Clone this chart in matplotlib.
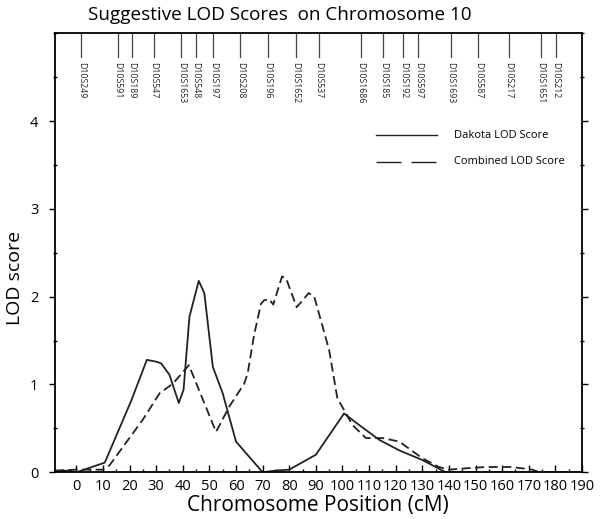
import matplotlib
matplotlib.use("Agg")
import matplotlib.pyplot as plt
from matplotlib.ticker import MultipleLocator

plt.rcParams['font.family'] = ['Open Sans', 'DejaVu Sans']

# Dakota LOD score (solid)
dakota_cm = [-8, -3, 0, 10.7, 20.7, 26.5, 30.0, 31.9, 35.0, 38.5, 40.3, 42.5, 46.0,
             48.1, 51.3, 55.0, 60.0, 70.0, 75, 80, 90.0, 100.6, 106.2, 113.8, 121.3,
             130.0, 138.8, 190]
dakota_lod = [0.01, 0.02, 0.0, 0.11, 0.82, 1.28, 1.26, 1.24, 1.11, 0.79, 0.94, 1.77, 2.18,
              2.04, 1.20, 0.90, 0.35, 0.0, 0.02, 0.03, 0.20, 0.67, 0.54, 0.37, 0.25,
              0.14, 0.0, 0.0]

# Combined LOD score (dashed)
combined_cm = [-8, 0, 10, 12.5, 25.0, 31.3, 36.3, 42.3, 52.5, 57.5, 63.1, 64.4, 66.9,
               69.4, 70.6, 72.5, 74.0, 77.3, 78.8, 82.8, 87.3, 89.4, 90.6, 95.0, 98.1,
               100.6, 103.7, 108.8, 115.0, 121.3, 125.0, 130.0, 136.3, 140.0, 146.3,
               153.8, 163.7, 171.3, 174]
combined_lod = [0.02, 0.03, 0.03, 0.08, 0.60, 0.90, 1.01, 1.22, 0.46, 0.75, 1.01, 1.13, 1.58,
                1.92, 1.96, 1.97, 1.91, 2.23, 2.21, 1.88, 2.04, 2.00, 1.87, 1.39, 0.84,
                0.71, 0.54, 0.39, 0.39, 0.35, 0.27, 0.16, 0.06, 0.03, 0.045,
                0.06, 0.06, 0.03, 0.0]

# marker positions (cM)
marker_names = ['D10S249', 'D10S591', 'D10S189', 'D10S547', 'D10S1653', 'D10S548',
                'D10S197', 'D10S208', 'D10S196', 'D10S1652', 'D10S537', 'D10S1686',
                'D10S185', 'D10S192', 'D10S597', 'D10S1693', 'D10S587', 'D10S217',
                'D10S1651', 'D10S212']
marker_cm = [1.9, 15.6, 20.9, 29.1, 39.4, 44.8, 51.5, 61.6, 71.9, 82.5, 91.0, 106.9,
             115.3, 122.8, 128.5, 140.6, 151.0, 162.5, 174.6, 180.2]

col = '#222222'

fig = plt.figure(figsize=(6.0, 5.19), dpi=100)
ax = fig.add_axes([0.0917, 0.090, 0.8783, 0.846])

ax.plot(dakota_cm, dakota_lod, color=col, lw=1.3, solid_joinstyle='round')
ax.plot(combined_cm, combined_lod, color=col, lw=1.3, linestyle=(0, (5, 2.5)))

ax.set_xlim(-8, 190)
ax.set_ylim(0, 5)

# markers hanging from the top
trans = ax.get_xaxis_transform()
for name, pos in zip(marker_names, marker_cm):
    ax.plot([pos, pos], [1.0, 0.945], color='#444444', lw=0.9, transform=trans, clip_on=False)
    ax.text(pos, 0.935, name, rotation=270, ha='center', va='top', fontsize=6.3,
            color='#222222', transform=trans)

# legend drawn by hand
ax.plot([0.609, 0.724], [0.768, 0.768], color=col, lw=1.0, transform=ax.transAxes)
ax.plot([0.609, 0.724], [0.7075, 0.7075], color=col, lw=1.0, transform=ax.transAxes,
        linestyle=(0, (18, 7.2)))
ax.text(0.757, 0.768, 'Dakota LOD Score', fontsize=8, va='center', transform=ax.transAxes)
ax.text(0.757, 0.7075, 'Combined LOD Score', fontsize=8, va='center', transform=ax.transAxes)

ax.set_xticks(range(0, 200, 10))
ax.xaxis.set_minor_locator(MultipleLocator(5))
ax.set_yticks([0, 1, 2, 3, 4])
ax.yaxis.set_minor_locator(MultipleLocator(0.5))
ax.tick_params(axis='x', which='major', direction='in', length=5, width=1, labelsize=10.5, pad=5)
ax.tick_params(axis='x', which='minor', direction='in', length=2.5, width=1)
ax.tick_params(axis='y', which='major', direction='out', length=4, width=1, labelsize=10.5,
               pad=8, right=True)
ax.tick_params(axis='y', which='minor', direction='inout', length=3, width=1, right=True)
for s in ax.spines.values():
    s.set_linewidth(1.3)

fig.text(280 / 600, 1 - 15 / 519, 'Suggestive LOD Scores  on Chromosome 10', ha='center',
         va='center', fontsize=13.6)
fig.text(318 / 600, 1 - 506 / 519, 'Chromosome Position (cM)', ha='center', va='center',
         fontsize=15)
fig.text(15 / 600, 1 - 278 / 519, 'LOD score', ha='center', va='center', rotation=90,
         fontsize=14)

fig.savefig('out.png', dpi=100, facecolor='white')
